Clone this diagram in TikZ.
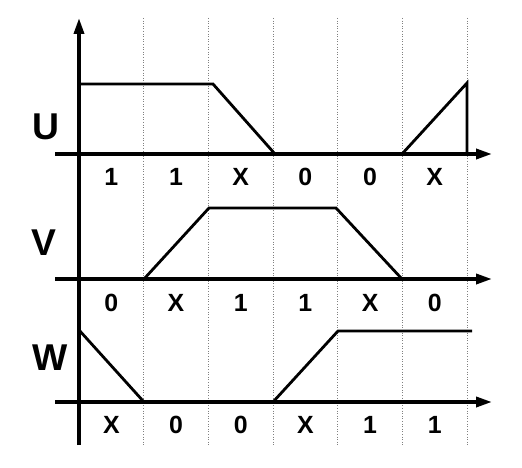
\documentclass[tikz,border=0pt]{standalone}
\usepackage{fontspec}
\setmainfont{Liberation Sans}
\usetikzlibrary{arrows.meta}

\begin{document}
\begin{tikzpicture}[x=1pt, y=-1pt, >={Triangle[length=16pt,width=10pt]}]
			\tikzstyle{axis} = [line width=3.5pt, ->]
			\tikzstyle{signal} = [line width=2.8pt, line join=miter]
			\tikzstyle{gridline} = [gray, dotted, line width=0.6pt]
			\tikzstyle{bit} = [font=\Huge\bfseries, inner sep=0pt]
			\tikzstyle{phase} = [font=\Huge\bfseries, scale=1.5, inner sep=0pt]
			\useasboundingbox (0,0) rectangle (522,468);
			% time slots
			\foreach \i in {1,...,6}
				\draw[gridline] (79+64.67*\i,18) -- (79+64.67*\i,445);
			% axes
			\coordinate (O) at (79,445);
			\coordinate (T) at (79,18);
			\draw[axis] (O) -- (T);
			\foreach \y/\s in {154/U, 279/V, 402/W} {
				\coordinate (\s0) at (55,\y);
				\coordinate (\s1) at (492,\y);
				\draw[axis] (\s0) -- (\s1);
			}
			% phase names
			\node[phase] (U) at (46,127) {U};
			\node[phase] (V) at (44,243) {V};
			\node[phase] (W) at (50,358) {W};
			% states
			\foreach \b [count=\i] in {1,1,X,0,0,X}
				\node[bit] (u\i) at (79+64.67*\i-32.3,177) {\b};
			\foreach \b [count=\i] in {0,X,1,1,X,0}
				\node[bit] (v\i) at (79+64.67*\i-32.3,303) {\b};
			\foreach \b [count=\i] in {X,0,0,X,1,1}
				\node[bit] (w\i) at (79+64.67*\i-32.3,425) {\b};
			% waveforms
			\draw[signal] (79,84) -- (213,84) -- (275,154);
			\draw[signal] (402,154) -- (467,83) -- (467,154);
			\draw[signal] (144,279) -- (209,208) -- (336,208) -- (402,279);
			\draw[signal] (79,330) -- (144,402);
			\draw[signal] (273,402) -- (338,331) -- (472,331);
\end{tikzpicture}
\end{document}
